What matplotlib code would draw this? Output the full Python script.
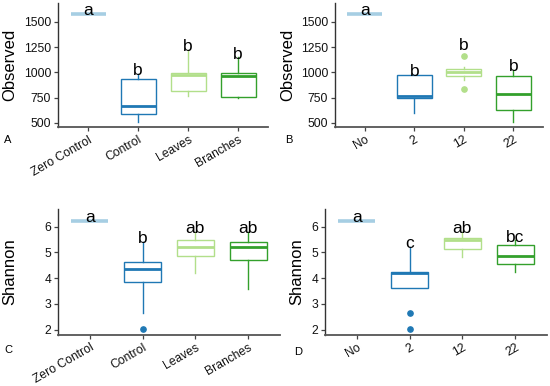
import matplotlib
matplotlib.use("Agg")
import matplotlib.pyplot as plt

plt.rcParams['font.family'] = ['Liberation Sans', 'DejaVu Sans']

# ---------------- data ----------------
cats_treat = ['Zero Control', 'Control', 'Leaves', 'Branches']
cats_days = ['No', '2', '12', '22']

# Panel A: Observed by treatment
A_q1 = [1580, 585, 820, 762]
A_med = [1580, 672, 978, 968]
A_q3 = [1580, 936, 998, 998]
A_lo = [1580, 510, 770, 750]
A_hi = [1580, 985, 1222, 1150]
A_fl = [[], [], [], []]
A_letters = ['a', 'b', 'b', 'b']

# Panel B: Observed by days
B_q1 = [1580, 750, 962, 628]
B_med = [1580, 766, 1000, 790]
B_q3 = [1580, 972, 1038, 965]
B_lo = [1580, 595, 925, 510]
B_hi = [1580, 975, 1050, 1025]
B_fl = [[], [], [1163, 840], []]
B_letters = ['a', 'b', 'b', 'b']

# Panel C: Shannon by treatment
C_q1 = [6.22, 3.86, 4.86, 4.72]
C_med = [6.22, 4.35, 5.22, 5.22]
C_q3 = [6.22, 4.62, 5.50, 5.40]
C_lo = [6.22, 2.63, 4.22, 3.60]
C_hi = [6.22, 5.42, 5.80, 5.80]
C_fl = [[], [2.04], [], []]
C_letters = ['a', 'b', 'ab', 'ab']

# Panel D: Shannon by days
D_q1 = [6.22, 3.63, 5.13, 4.57]
D_med = [6.22, 4.21, 5.47, 4.85]
D_q3 = [6.22, 4.25, 5.57, 5.30]
D_lo = [6.22, 3.63, 4.84, 4.25]
D_hi = [6.22, 5.23, 5.80, 5.48]
D_fl = [[], [2.65, 2.04], [], []]
D_letters = ['a', 'c', 'ab', 'bc']

colors = ['#a6cee3', '#1f78b4', '#b2df8a', '#33a02c']

W, H = 550, 386
fig = plt.figure(figsize=(W / 100, H / 100), dpi=100)


def px_axes(left, right, top, bottom):
    return fig.add_axes([left / W, 1 - bottom / H, (right - left) / W, (bottom - top) / H])


def panel(ax, cats, q1, med, q3, lo, hi, fl, letters, ylim, yticks):
    for i in range(len(cats)):
        st = dict(med=med[i], q1=q1[i], q3=q3[i], whislo=lo[i], whishi=hi[i], fliers=fl[i])
        c = colors[i]
        zero = (q1[i] == q3[i])
        ax.bxp([st], positions=[i + 1], widths=0.7, showcaps=False, patch_artist=True,
               boxprops=dict(facecolor='white', edgecolor=c, linewidth=0.0 if zero else 1.0),
               whiskerprops=dict(color=c, linewidth=1.0),
               medianprops=dict(color=c, linewidth=2.6 if zero else 2.0, solid_capstyle='butt'),
               flierprops=dict(marker='o', markerfacecolor=c, markeredgecolor=c, markersize=3.8))
        top = max([hi[i]] + list(fl[i]))
        off = 4 if top > hi[i] else -1
        ax.annotate(letters[i], (i + 1, top), xytext=(0, off), textcoords='offset points',
                    ha='center', va='baseline', fontsize=12.5, color='black')
    ax.set_xlim(0.4, len(cats) + 0.6)
    ax.set_ylim(*ylim)
    ax.set_yticks(yticks)
    ax.set_yticklabels([str(t) for t in yticks])
    ax.set_xticks(range(1, len(cats) + 1))
    ax.set_xticklabels(cats, rotation=30, ha='right', rotation_mode='anchor')
    for s in ['top', 'right']:
        ax.spines[s].set_visible(False)
    ax.spines['left'].set_color('#333333')
    ax.spines['bottom'].set_color('#555555')
    ax.spines['left'].set_linewidth(1.0)
    ax.spines['bottom'].set_linewidth(1.3)
    ax.tick_params(axis='both', length=3, width=0.9, color='#444444', labelsize=8.7,
                   labelcolor='#111111', pad=2)
    ax.set_facecolor('white')


axA = px_axes(58, 268, 3, 127)
panel(axA, cats_treat, A_q1, A_med, A_q3, A_lo, A_hi, A_fl, A_letters, (460, 1688),
      [500, 750, 1000, 1250, 1500])
axB = px_axes(335, 543, 3, 127)
panel(axB, cats_days, B_q1, B_med, B_q3, B_lo, B_hi, B_fl, B_letters, (460, 1688),
      [500, 750, 1000, 1250, 1500])
axC = px_axes(58, 280, 209, 334.7)
panel(axC, cats_treat, C_q1, C_med, C_q3, C_lo, C_hi, C_fl, C_letters, (1.806, 6.69),
      [2, 3, 4, 5, 6])
axD = px_axes(325, 547, 209, 334.7)
panel(axD, cats_days, D_q1, D_med, D_q3, D_lo, D_hi, D_fl, D_letters, (1.806, 6.69),
      [2, 3, 4, 5, 6])

# y labels
for (x, y, t) in [(10, 65, 'Observed'), (288, 65, 'Observed'), (10, 272, 'Shannon'), (297, 272, 'Shannon')]:
    fig.text(x / W, 1 - y / H, t, rotation=90, ha='center', va='center', fontsize=12)

# panel letters
for (x, y, t) in [(8, 140, 'A'), (289, 140, 'B'), (8, 350, 'C'), (298, 352, 'D')]:
    fig.text(x / W, 1 - y / H, t, ha='center', va='center', fontsize=8)

fig.savefig('out.png', dpi=100, facecolor='white')
